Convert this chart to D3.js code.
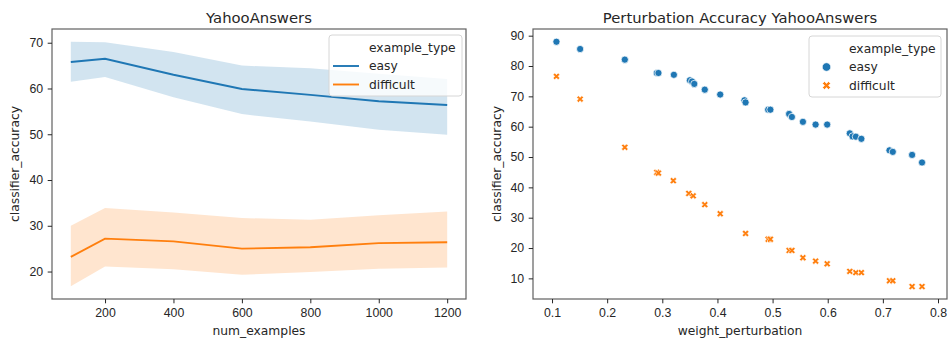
<!DOCTYPE html>
<html>
<head>
<meta charset="utf-8">
<script src="https://cdn.jsdelivr.net/npm/d3@7"></script>
<style>
  body { margin: 0; background: #fff; }
  svg { font-family: "DejaVu Sans", sans-serif; }
  .tick text { font-size: 12.3px; fill: #262626; }
  .tick line { stroke: #262626; }
</style>
</head>
<body>
<div class="graph"></div>
<script>
const width = 950;
const height = 341;

// left panel: mean and band per num_examples
const numExamples = [100, 200, 400, 600, 800, 1000, 1200];
const easyMean = [65.8, 66.5, 63.0, 59.9, 58.6, 57.2, 56.4];
const easyLow = [61.5, 62.5, 58.1, 54.4, 52.8, 51.0, 49.9];
const easyHigh = [70.2, 70.1, 68.0, 65.0, 64.4, 63.2, 62.1];
const diffMean = [23.2, 27.2, 26.6, 25.0, 25.3, 26.2, 26.4];
const diffLow = [16.8, 21.1, 20.5, 19.3, 19.9, 20.6, 20.9];
const diffHigh = [30.0, 33.9, 32.9, 31.7, 31.3, 32.3, 33.1];
const leftXTicks = [200, 400, 600, 800, 1000, 1200];
const leftYTicks = [20, 30, 40, 50, 60, 70];

// right panel: scatter
const easyW = [0.108, 0.151, 0.232, 0.290, 0.293, 0.321, 0.350, 0.354, 0.358, 0.377, 0.405,
  0.449, 0.451, 0.492, 0.496, 0.530, 0.535, 0.555, 0.578, 0.599, 0.640, 0.645, 0.651, 0.661,
  0.712, 0.718, 0.753, 0.771];
const easyAcc = [88.0, 85.6, 82.1, 77.7, 77.7, 77.1, 75.3, 74.9, 74.1, 72.2, 70.6,
  68.7, 68.0, 65.6, 65.6, 64.2, 63.2, 61.6, 60.7, 60.7, 57.8, 56.8, 56.7, 56.0,
  52.2, 51.7, 50.7, 48.2];
const diffW = [0.108, 0.151, 0.232, 0.290, 0.293, 0.320, 0.348, 0.356, 0.377, 0.405,
  0.451, 0.492, 0.496, 0.530, 0.535, 0.555, 0.578, 0.599, 0.640, 0.651, 0.661,
  0.712, 0.718, 0.753, 0.771];
const diffAcc = [76.6, 69.1, 53.2, 44.9, 44.7, 42.2, 38.0, 37.2, 34.3, 31.3,
  24.8, 22.9, 22.9, 19.2, 19.2, 16.8, 15.7, 14.8, 12.3, 11.9, 11.9,
  9.2, 9.2, 7.3, 7.3];
const rightXTicks = [0.1, 0.2, 0.3, 0.4, 0.5, 0.6, 0.7, 0.8];
const rightYTicks = [10, 20, 30, 40, 50, 60, 70, 80, 90];

const blue = "#1f77b4";
const orange = "#ff7f0e";

const svg = d3.select(".graph").append("svg")
  .attr("width", width)
  .attr("height", height);

function frame(g, x0, y0, x1, y1, title, xlabel) {
  g.append("rect")
    .attr("x", x0).attr("y", y0)
    .attr("width", x1 - x0).attr("height", y1 - y0)
    .attr("fill", "none").attr("stroke", "#606060").attr("stroke-width", 1.2);
  g.append("text")
    .attr("x", (x0 + x1) / 2).attr("y", 22.5)
    .attr("text-anchor", "middle")
    .style("font-size", "14.8px").attr("fill", "#262626")
    .text(title);
  g.append("text")
    .attr("x", (x0 + x1) / 2).attr("y", 335)
    .attr("text-anchor", "middle")
    .style("font-size", "12.3px").attr("fill", "#262626")
    .text(xlabel);
}

function axes(g, xScale, yScale, xTicks, yTicks, x0, y1, yLabelX) {
  g.append("g")
    .attr("transform", "translate(0," + y1 + ")")
    .call(d3.axisBottom(xScale).tickValues(xTicks).tickSize(4.3).tickPadding(5)
      .tickFormat(d3.format("")))
    .call((a) => a.select(".domain").remove());
  g.append("g")
    .attr("transform", "translate(" + x0 + ",0)")
    .call(d3.axisLeft(yScale).tickValues(yTicks).tickSize(4.3).tickPadding(4.5))
    .call((a) => a.select(".domain").remove());
  g.append("text")
    .attr("transform", "translate(" + yLabelX + "," + (yScale.range()[0] + yScale.range()[1]) / 2 + ") rotate(-90)")
    .attr("text-anchor", "middle")
    .attr("dy", "0.35em")
    .style("font-size", "12.3px").attr("fill", "#262626")
    .text("classifier_accuracy");
}

function legendBox(g, x0, y0, x1, y1, textX, rows) {
  g.append("rect")
    .attr("x", x0).attr("y", y0)
    .attr("width", x1 - x0).attr("height", y1 - y0)
    .attr("rx", 3)
    .attr("fill", "rgba(255,255,255,0.8)")
    .attr("stroke", "#d6d6d6").attr("stroke-width", 1);
  const labels = ["example_type", "easy", "difficult"];
  labels.forEach((t, i) => {
    g.append("text")
      .attr("x", textX).attr("y", rows[i])
      .attr("dy", "0.35em")
      .style("font-size", "12.3px").attr("fill", "#262626")
      .text(t);
  });
}

// ---------- left panel ----------
const L = { x0: 52, x1: 466, y0: 29, y1: 299 };
const lx = d3.scaleLinear().domain([45, 1255]).range([L.x0, L.x1]);
const ly = d3.scaleLinear().domain([14.0, 73.0]).range([L.y1, L.y0]);
const left = svg.append("g");

const bandData = (lo, hi) => numExamples.map((n, i) => ({ n, lo: lo[i], hi: hi[i] }));
const lineData = (m) => numExamples.map((n, i) => ({ n, v: m[i] }));
const area = d3.area().x((d) => lx(d.n)).y0((d) => ly(d.lo)).y1((d) => ly(d.hi));
const line = d3.line().x((d) => lx(d.n)).y((d) => ly(d.v));

left.append("path").attr("d", area(bandData(easyLow, easyHigh)))
  .attr("fill", blue).attr("fill-opacity", 0.2);
left.append("path").attr("d", area(bandData(diffLow, diffHigh)))
  .attr("fill", orange).attr("fill-opacity", 0.2);
left.append("path").attr("d", line(lineData(easyMean)))
  .attr("fill", "none").attr("stroke", blue).attr("stroke-width", 1.9);
left.append("path").attr("d", line(lineData(diffMean)))
  .attr("fill", "none").attr("stroke", orange).attr("stroke-width", 1.9);

frame(left, L.x0, L.y0, L.x1, L.y1, "YahooAnswers", "num_examples");
axes(left, lx, ly, leftXTicks, leftYTicks, L.x0, L.y1, 15);

legendBox(left, 329, 35, 462, 96, 369, [48, 66, 84.5]);
[[66, blue], [84.5, orange]].forEach(([y, c]) => {
  left.append("line")
    .attr("x1", 333).attr("x2", 359).attr("y1", y).attr("y2", y)
    .attr("stroke", c).attr("stroke-width", 1.9);
});

// ---------- right panel ----------
const R = { x0: 533, x1: 947, y0: 29, y1: 299 };
const rx = d3.scaleLinear().domain([0.0655, 0.8163]).range([R.x0, R.x1]);
const ry = d3.scaleLinear().domain([3.2, 92.2]).range([R.y1, R.y0]);
const right = svg.append("g");

const xMarker = (s) => {
  // filled "X" marker
  const a = s, b = s * 0.5;
  return "M" + (-a) + "," + (-a + b) + " L" + (-a + b) + "," + (-a) + " L0," + (-b) +
    " L" + (a - b) + "," + (-a) + " L" + a + "," + (-a + b) + " L" + b + ",0" +
    " L" + a + "," + (a - b) + " L" + (a - b) + "," + a + " L0," + b +
    " L" + (-a + b) + "," + a + " L" + (-a) + "," + (a - b) + " L" + (-b) + ",0 Z";
};

right.selectAll("circle.easy")
  .data(easyW.map((w, i) => ({ w, v: easyAcc[i] })))
  .enter().append("circle")
  .attr("class", "easy")
  .attr("cx", (d) => rx(d.w)).attr("cy", (d) => ry(d.v))
  .attr("r", 3.6)
  .attr("fill", blue).attr("stroke", "#fff").attr("stroke-width", 0.75);

right.selectAll("path.diff")
  .data(diffW.map((w, i) => ({ w, v: diffAcc[i] })))
  .enter().append("path")
  .attr("class", "diff")
  .attr("d", xMarker(3.4))
  .attr("transform", (d) => "translate(" + rx(d.w) + "," + ry(d.v) + ")")
  .attr("fill", orange).attr("stroke", "#fff").attr("stroke-width", 0.6);

frame(right, R.x0, R.y0, R.x1, R.y1, "Perturbation Accuracy YahooAnswers", "weight_perturbation");
axes(right, rx, ry, rightXTicks, rightYTicks, R.x0, R.y1, 497);

legendBox(right, 809, 36, 941, 97, 849, [48.5, 67, 85.5]);
right.append("circle")
  .attr("cx", 826.5).attr("cy", 67).attr("r", 4.3)
  .attr("fill", blue).attr("stroke", "#fff").attr("stroke-width", 0.75);
right.append("path")
  .attr("d", xMarker(4))
  .attr("transform", "translate(826.5,85.5)")
  .attr("fill", orange).attr("stroke", "#fff").attr("stroke-width", 0.6);
</script>
</body>
</html>
